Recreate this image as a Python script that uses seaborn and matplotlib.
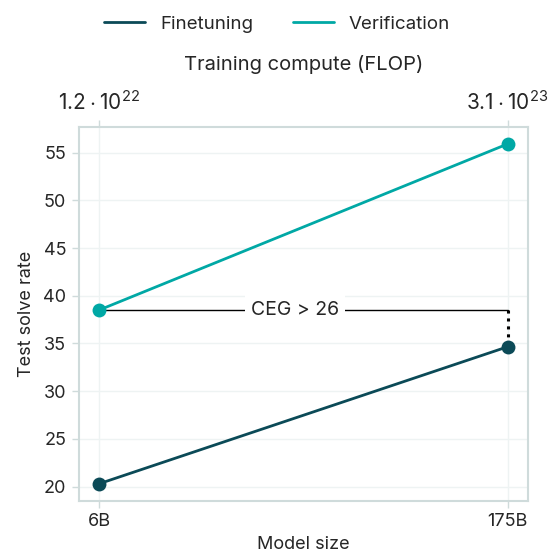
import matplotlib
matplotlib.use("Agg")
import matplotlib.pyplot as plt
import seaborn as sns
import pandas as pd

# data
model_sizes = ["6B", "175B"]
compute_labels = [r"$\mathregular{1.2 \cdot 10^{22}}$", r"$\mathregular{3.1 \cdot 10^{23}}$"]
finetuning = [20.3, 34.65]
verification = [38.5, 55.9]
ceg_label = "CEG > 26"

colors = {"Finetuning": "#0b4a57", "Verification": "#00a8a5"}
spine_color = "#cfdbdb"
grid_color = "#eef3f3"

sns.set_theme(style="whitegrid")
plt.rcParams["font.family"] = ["Inter", "DejaVu Sans"]
plt.rcParams["mathtext.fontset"] = "custom"
plt.rcParams["mathtext.rm"] = "Inter"

xpos = list(range(len(model_sizes)))
df = pd.DataFrame({
    "x": xpos * 2,
    "rate": finetuning + verification,
    "method": ["Finetuning"] * len(xpos) + ["Verification"] * len(xpos),
})

fig = plt.figure(figsize=(5.54, 5.57), dpi=100)
ax = fig.add_axes([0.142, 0.101, 0.811, 0.671])

sns.lineplot(data=df, x="x", y="rate", hue="method", palette=colors,
             marker="o", markersize=10, markeredgewidth=0, linewidth=2,
             ax=ax, legend=True)

# CEG annotation
ax.plot([xpos[0], xpos[1]], [verification[0], verification[0]], color="black", lw=1, zorder=1)
ax.plot([xpos[1], xpos[1]], [verification[0], finetuning[1]], color="black", lw=2.2,
        linestyle=(0, (1, 1.6)), zorder=1)
ax.text(0.48, verification[0], ceg_label, ha="center", va="center", fontsize=14,
        bbox=dict(facecolor="white", edgecolor="none", pad=4), zorder=2)

ax.set_xticks(xpos)
ax.set_xticklabels(model_sizes)
ax.set_yticks([20, 25, 30, 35, 40, 45, 50, 55])
ax.set_xlabel("Model size", fontsize=13, labelpad=4)
ax.set_ylabel("Test solve rate", fontsize=13, labelpad=6)
ax.tick_params(axis="both", labelsize=13, length=5, width=1, color=spine_color, pad=4, direction="out")
ax.tick_params(axis="x", bottom=True)
ax.tick_params(axis="y", left=True)
ax.grid(True, color=grid_color, lw=1)
for s in ax.spines.values():
    s.set_color(spine_color)
    s.set_linewidth(1.5)

top = ax.secondary_xaxis("top")
top.set_xticks(xpos)
top.set_xticklabels(compute_labels)
top.tick_params(labelsize=15, length=5, width=1, color=spine_color, pad=4)
top.set_xlabel("Training compute (FLOP)", fontsize=14.5, labelpad=15)
top.spines["top"].set_color(spine_color)

handles, labels = ax.get_legend_handles_labels()
leg = fig.legend(handles, labels, loc="center", bbox_to_anchor=(0.5, 0.957), ncol=2,
                 frameon=False, fontsize=13.5, handlelength=2.2, columnspacing=2.1,
                 handletextpad=0.8)
for h in leg.get_lines():
    h.set_marker("")
    h.set_linewidth(2)
ax.get_legend().remove()

fig.savefig("out.png", dpi=100)
